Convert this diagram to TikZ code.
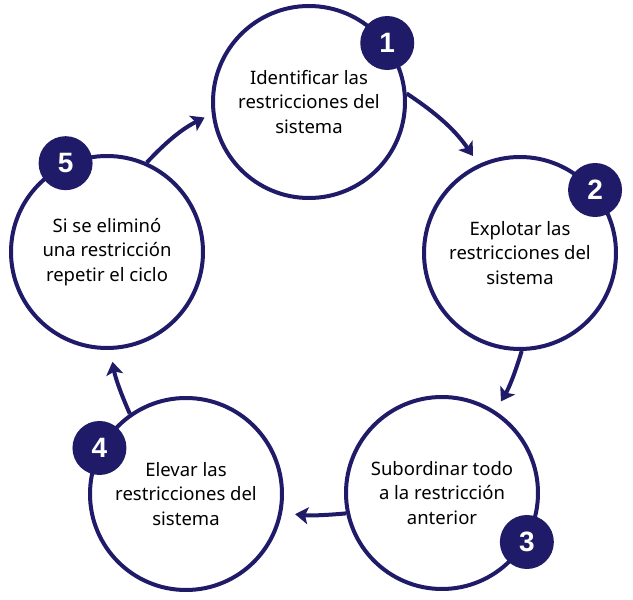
\documentclass[tikz,border=0pt]{standalone}
\usepackage{fontspec}
\setmainfont{Noto Sans}
\newfontfamily\numfont{Liberation Sans}
\usepackage{tikz}
\usetikzlibrary{positioning, arrows.meta}
\definecolor{azul}{RGB}{32,27,104}

\begin{document}
\begin{tikzpicture}[x=1pt, y=1pt,
	paso/.style={circle, draw=azul, fill=white, line width=4pt, minimum size=192pt, inner sep=1pt, align=center, text=black, font=\fontsize{18.5}{24.5}\selectfont},
	num/.style={circle, fill=azul, minimum size=54pt, inner sep=0pt, text=white, font=\numfont\fontsize{28}{28}\selectfont\bfseries},
	flecha/.style={draw=azul, line width=4pt, -{Stealth[length=13pt, width=17pt, inset=3pt]}}]
\useasboundingbox (0,0) rectangle (633,600);
\foreach \n/\x/\y/\t in {
	1/309/498/{Identificar las\\restricciones del\\sistema},
	2/520/347/{Explotar las\\restricciones del\\sistema},
	3/442/107/{Subordinar todo\\a la restricción\\anterior},
	4/186/106/{Elevar las\\restricciones del\\sistema},
	5/107/348/{Si se eliminó\\una restricción\\repetir el ciclo}} {
	\node[paso] (c\n) at (\x, \y) {\t};
}
\foreach \a/\b/\s/\e/\sh/\bd in {1/2/5/115/10/11, 2/3/-89/57/11/7, 3/4/192/-11/13/6, 4/5/125/-88/12/7, 5/1/66/187/8/10}
	\draw[flecha, shorten >=\sh pt] (c\a.\s) to[bend left=\bd] (c\b.\e);
\foreach \n/\ang in {1/37, 2/40, 3/-30, 4/152, 5/115}
	\node[num] (b\n) at (c\n.\ang) {\n};
\end{tikzpicture}
\end{document}
